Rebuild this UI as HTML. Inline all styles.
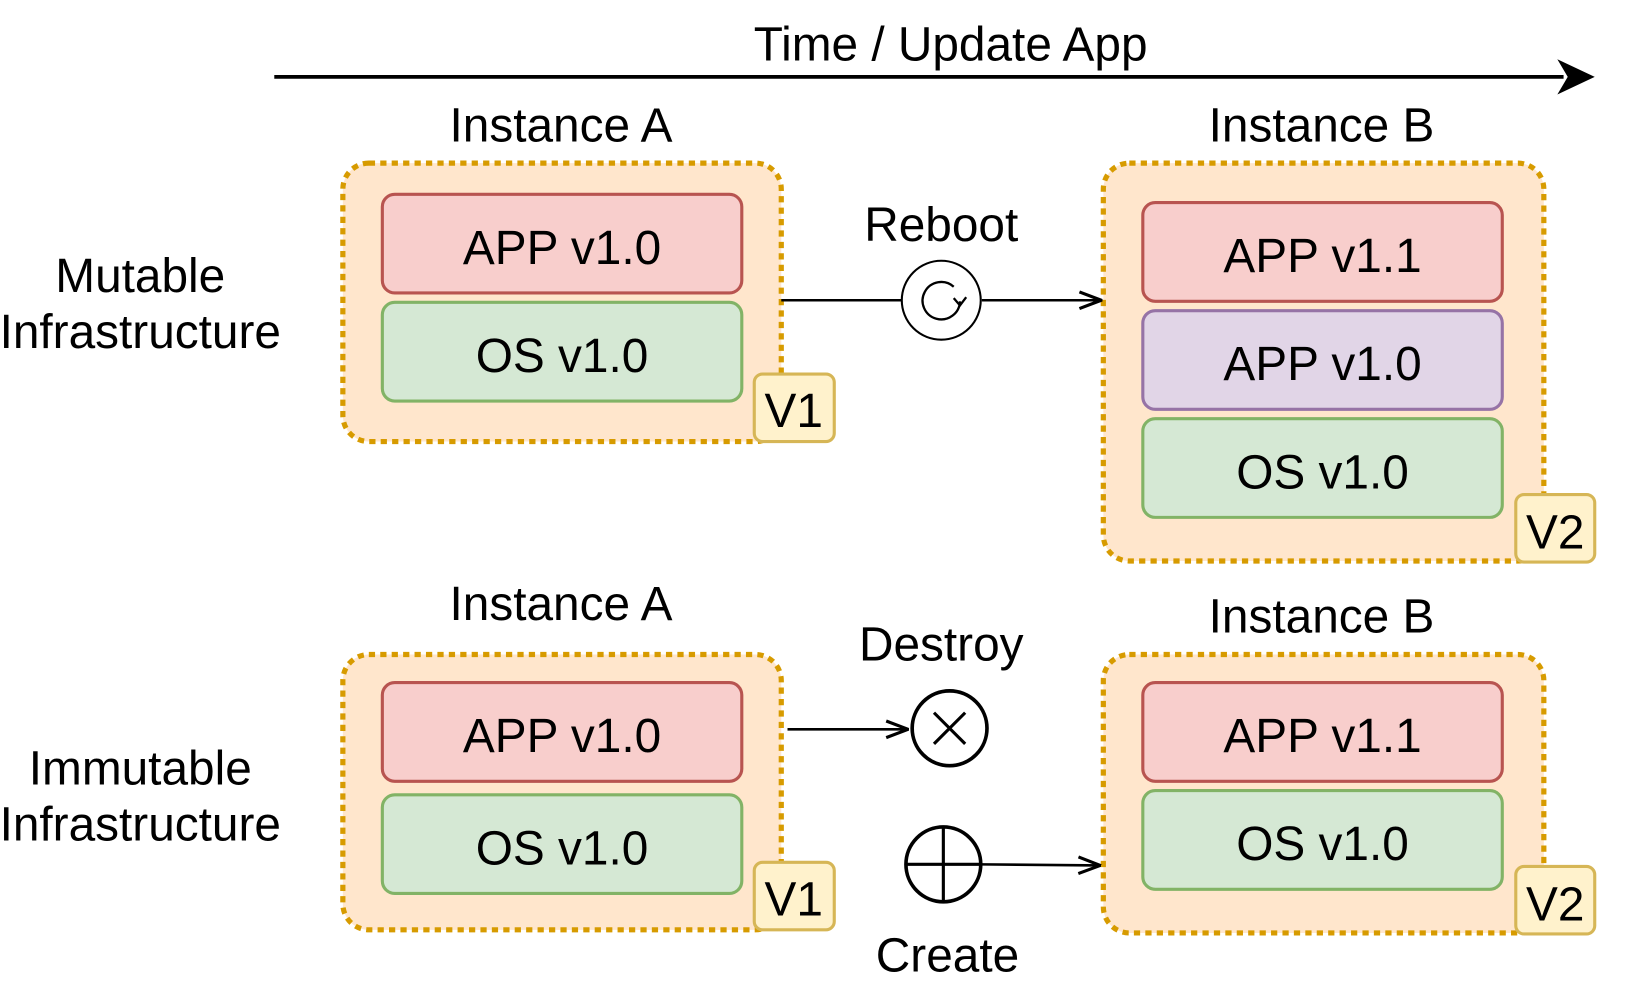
<!DOCTYPE html>
<html><head><meta charset="utf-8"><style>html,body{margin:0;padding:0;background:#fff}svg{display:block}text{font-family:"Liberation Sans",Arial,sans-serif;fill:#000;text-anchor:middle}</style></head>
<body>
<svg width="1628" height="996" viewBox="0 0 1567 958.7" xmlns="http://www.w3.org/2000/svg">
<defs>
<marker id="open" viewBox="0 0 24 24" refX="23" refY="12" markerWidth="24" markerHeight="24" markerUnits="userSpaceOnUse" orient="auto"><path d="M2,4 L23,12 L2,20" fill="none" stroke="#000" stroke-width="3"/></marker>
</defs>
<text x="915" y="58" font-size="46">Time / Update App</text>
<line x1="264" y1="74" x2="1505" y2="74" stroke="#000" stroke-width="3.5"/>
<path d="M1535,74 L1499,57 L1509,74 L1499,91 Z" fill="#000"/>

<g font-size="46">
<text x="540" y="136">Instance A</text>
<text x="1272" y="136">Instance B</text>
<text x="540" y="597">Instance A</text>
<text x="1272" y="609">Instance B</text>
<text x="135" y="281">Mutable</text>
<text x="135" y="335">Infrastructure</text>
<text x="135" y="755">Immutable</text>
<text x="135" y="809">Infrastructure</text>
<text x="906" y="232">Reboot</text>
<text x="906" y="636">Destroy</text>
<text x="912" y="935">Create</text>
</g>

<g fill="#ffe6cc" stroke="#d79b00" stroke-width="5" stroke-dasharray="6 5">
<rect x="330" y="157" width="422" height="268" rx="25"/>
<rect x="1062" y="157" width="424" height="383" rx="25"/>
<rect x="330" y="630" width="422" height="265" rx="25"/>
<rect x="1062" y="630" width="424" height="268" rx="25"/>
</g>

<g stroke-width="3">
<rect x="368" y="187" width="346" height="95" rx="12" fill="#f8cecc" stroke="#b85450"/>
<rect x="368" y="291" width="346" height="95" rx="12" fill="#d5e8d4" stroke="#82b366"/>
<rect x="1100" y="195" width="346" height="95" rx="12" fill="#f8cecc" stroke="#b85450"/>
<rect x="1100" y="299" width="346" height="95" rx="12" fill="#e1d5e7" stroke="#9673a6"/>
<rect x="1100" y="403" width="346" height="95" rx="12" fill="#d5e8d4" stroke="#82b366"/>
<rect x="368" y="657" width="346" height="95" rx="12" fill="#f8cecc" stroke="#b85450"/>
<rect x="368" y="765" width="346" height="95" rx="12" fill="#d5e8d4" stroke="#82b366"/>
<rect x="1100" y="657" width="346" height="95" rx="12" fill="#f8cecc" stroke="#b85450"/>
<rect x="1100" y="761" width="346" height="95" rx="12" fill="#d5e8d4" stroke="#82b366"/>
<rect x="726" y="360" width="77" height="65" rx="8" fill="#fff2cc" stroke="#d6b656"/>
<rect x="1459" y="476" width="76" height="65" rx="8" fill="#fff2cc" stroke="#d6b656"/>
<rect x="726" y="830" width="77" height="65" rx="8" fill="#fff2cc" stroke="#d6b656"/>
<rect x="1459" y="834" width="76" height="65" rx="8" fill="#fff2cc" stroke="#d6b656"/>
</g>

<g font-size="46">
<text x="541" y="254">APP v1.0</text>
<text x="541" y="358">OS v1.0</text>
<text x="1273" y="262">APP v1.1</text>
<text x="1273" y="366">APP v1.0</text>
<text x="1273" y="470">OS v1.0</text>
<text x="541" y="724">APP v1.0</text>
<text x="541" y="832">OS v1.0</text>
<text x="1273" y="724">APP v1.1</text>
<text x="1273" y="828">OS v1.0</text>
<text x="764" y="411">V1</text>
<text x="1497" y="528">V2</text>
<text x="764" y="881">V1</text>
<text x="1497" y="886">V2</text>
</g>

<!-- reboot -->
<line x1="752" y1="289" x2="868" y2="289" stroke="#000" stroke-width="2.5"/>
<line x1="945" y1="289" x2="1060" y2="289" stroke="#000" stroke-width="2.5" marker-end="url(#open)"/>
<circle cx="906" cy="289" r="38" fill="#fff" stroke="#000" stroke-width="2"/>
<path d="M924,290 A18,18 0 1 1 918,276" fill="none" stroke="#000" stroke-width="2.2"/>
<path d="M918,287 L924,294 L930,286" fill="none" stroke="#000" stroke-width="2.2"/>

<!-- destroy -->
<line x1="758" y1="702" x2="874" y2="702" stroke="#000" stroke-width="2.5" marker-end="url(#open)"/>
<circle cx="914" cy="701" r="36" fill="#fff" stroke="#000" stroke-width="3.5"/>
<path d="M899,686 L929,716 M929,686 L899,716" stroke="#000" stroke-width="3"/>

<!-- create -->
<line x1="945" y1="832" x2="1059" y2="833" stroke="#000" stroke-width="2.5" marker-end="url(#open)"/>
<circle cx="908" cy="832" r="36" fill="#fff" stroke="#000" stroke-width="3.5"/>
<path d="M908,796 L908,868 M872,832 L944,832" stroke="#000" stroke-width="3"/>
</svg>
</body></html>
